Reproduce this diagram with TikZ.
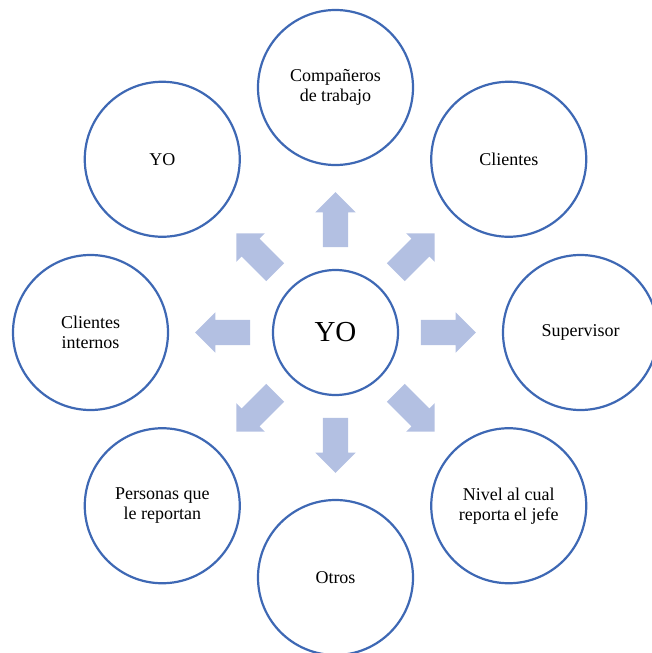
\documentclass[tikz,border=0pt]{standalone}
\usepackage{fontspec}
\setmainfont{Liberation Serif}
\usetikzlibrary{shapes.arrows,calc,positioning}
\definecolor{circblue}{RGB}{62,104,180}
\definecolor{arrowblue}{RGB}{179,192,226}

\begin{document}
\begin{tikzpicture}[
    %–––– GLOBAL STYLE TWEAKS ––––
    font=\fontsize{18}{20}\selectfont,               % outer labels
    circ/.style = {circle, draw=circblue, line width=2.2pt,
                   fill=white, align=center,
                   minimum size=155pt,               % outer circles
                   inner sep=0pt},
    hub/.style  = {circ, minimum size=125pt,         % centre circle
                   font=\fontsize{29}{32}\selectfont},
    flecha/.style = {single arrow, draw=none, fill=arrowblue,
                     minimum height=55pt,
                     inner xsep=0pt, inner ysep=12.5pt, % shaft 25pt wide
                     single arrow head extend=7.5pt,    % head 40pt wide
                     single arrow tip angle=90},
]
\useasboundingbox (0,0) rectangle (651pt,-653pt);

%–––– CENTRE ––––
\node (yo) [hub] at (335.5pt,-332.5pt) {YO};

%–––– RING OF CIRCLES ––––
\node (companeros) [circ] at ($(yo)+(90:245pt)$)   {Compañeros\\de trabajo};
\node (clientes)   [circ] at ($(yo)+(45:245pt)$)   {Clientes};
\node (supervisor) [circ] at ($(yo)+(0:245pt)$)    {Supervisor};
\node (nivel)      [circ] at ($(yo)+(-45:245pt)$)  {Nivel al cual\\reporta el jefe};
\node (otros)      [circ] at ($(yo)+(-90:245pt)$)  {Otros};
\node (personas)   [circ] at ($(yo)+(-135:245pt)$) {Personas que\\le reportan};
\node (internos)   [circ] at ($(yo)+(180:245pt)$)  {Clientes\\internos};
\node (yo_sup)     [circ] at ($(yo)+(135:245pt)$)  {YO};

%–––– BLOCK ARROWS ––––
\foreach \n/\a in {companeros/90, clientes/45, supervisor/0, nivel/-45,
                   otros/-90, personas/-135, internos/180, yo_sup/135}
  \node (f_\n) [flecha, rotate=\a] at ($(yo)!106.5pt!(\n)$) {};
\end{tikzpicture}
\end{document}
